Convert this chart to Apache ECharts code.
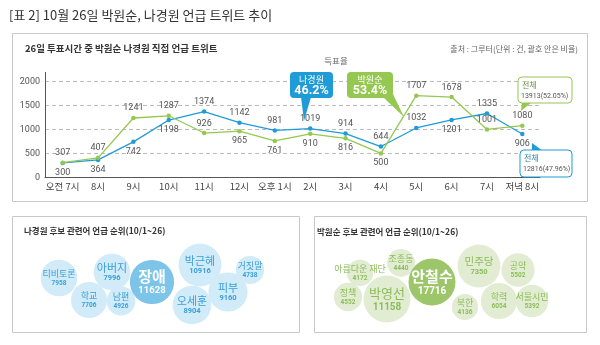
<!DOCTYPE html>
<html>
<head>
<meta charset="utf-8">
<script src="https://cdn.jsdelivr.net/npm/echarts@6/dist/echarts.min.js"></script>
<style>
  html, body { margin: 0; padding: 0; background: #fff; }
  #c { width: 600px; height: 345px; }
</style>
</head>
<body>
<div id="c"></div>
<script>
// Hourly tweet mentions on election day (Oct 26)
const hours = ['오전 7시', '8시', '9시', '10시', '11시', '12시', '오후 1시', '2시', '3시', '4시', '5시', '6시', '7시', '저녁 8시'];
const parkTweets = [307, 407, 1241, 1287, 926, 965, 761, 910, 816, 500, 1707, 1678, 1001, 1080];
const naTweets = [300, 364, 742, 1198, 1374, 1142, 981, 1019, 914, 644, 1032, 1201, 1335, 906];
const yTicks = [0, 500, 1000, 1500, 2000];

// Where each value label sits relative to its point
const parkLabelSide = ['top', 'top', 'top', 'top', 'top', 'bottom', 'bottom', 'bottom', 'bottom', 'bottom', 'top', 'top', 'top', 'top'];
const naLabelSide = ['bottom', 'bottom', 'bottom', 'bottom', 'top', 'top', 'top', 'top', 'top', 'top', 'top', 'bottom', 'top', 'bottom'];

// Related-word mention counts (Oct 1-26)
const naWords = ['티비토론', '학교', '아버지', '남편', '오세훈', '피부', '거짓말', '박근혜', '장애'];
const naWordCounts = [7958, 7706, 7996, 4926, 8904, 9160, 4738, 10916, 11628];
const parkWords = ['아름다운 재단', '정책', '조종동', '북한', '민주당', '학력', '공약', '서울시민', '박영선', '안철수'];
const parkWordCounts = [4172, 4552, 4440, 4136, 7350, 6054, 5502, 5392, 11158, 17716];

// Bubble cloud layout inside each panel (panel-local pixels)
const naWordSpots = [[47, 62], [77, 84], [100, 56], [109, 85], [180, 89], [216, 76], [238, 54], [188, 49], [140, 66]];
const parkWordSpots = [[46, 57], [34, 81], [87, 47], [151, 91], [165, 50], [185, 85], [204, 54], [218, 85], [73, 83], [118, 66]];

const BLUE = '#1f9bd7';
const GREEN = '#95c850';
const KR = '"Noto Sans CJK KR", "Noto Sans", sans-serif';
const NUM = 'Roboto, "Noto Sans", sans-serif';

const chart = echarts.init(document.getElementById('c'), null, { renderer: 'canvas' });

function lineData(values, sides) {
  return values.map((v, i) => ({ value: v, label: { position: sides[i] } }));
}

const naRadius = v => 0.205 * Math.sqrt(v);
const parkRadius = v => Math.min(23.5, 13 + (v - 4100) * 0.0026);

function bubbleData(words, counts, spots, big, bigStyle, midStyle) {
  return words.map((w, i) => {
    const item = { name: w, value: [spots[i][0], spots[i][1], counts[i]] };
    if (w === big) {
      item.itemStyle = { color: bigStyle.fill };
      item.label = { rich: bigStyle.rich };
    } else if (midStyle && midStyle[w]) {
      item.label = { rich: midStyle[w] };
    }
    return item;
  });
}

const midBlue = {
  n: { fontFamily: KR, fontSize: 11, color: '#3aa0da', lineHeight: 13 },
  v: { fontFamily: NUM, fontSize: 7.5, fontWeight: 'bold', color: '#3aa0da', lineHeight: 9 }
};

const naBubbles = bubbleData(naWords, naWordCounts, naWordSpots, '장애', {
  fill: '#7cc5e8',
  rich: {
    n: { fontFamily: KR, fontSize: 15, fontWeight: 'bold', color: '#fff', lineHeight: 18 },
    v: { fontFamily: NUM, fontSize: 9.5, fontWeight: 'bold', color: '#fff', lineHeight: 11 }
  }
}, { '박근혜': midBlue, '오세훈': midBlue, '아버지': midBlue, '피부': midBlue });

const parkBubbles = parkWords.map((w, i) => ({ name: w, value: [parkWordSpots[i][0], parkWordSpots[i][1], parkWordCounts[i]] }));
parkBubbles.forEach(b => {
  if (b.name === '안철수') {
    b.itemStyle = { color: '#9dc66b' };
    b.label = { rich: {
      n: { fontFamily: KR, fontSize: 15, fontWeight: 'bold', color: '#fff', lineHeight: 18 },
      v: { fontFamily: NUM, fontSize: 10, color: '#fff', lineHeight: 12 }
    } };
  } else if (b.name === '박영선') {
    b.label = { rich: {
      n: { fontFamily: KR, fontSize: 13, color: '#8cbd58', lineHeight: 16 },
      v: { fontFamily: NUM, fontSize: 10, color: '#8cbd58', lineHeight: 12 }
    } };
  } else if (b.name === '민주당') {
    b.label = { rich: {
      n: { fontFamily: KR, fontSize: 10.5, color: '#8cbd58', lineHeight: 13 },
      v: { fontFamily: NUM, fontSize: 7.5, color: '#8cbd58', lineHeight: 9 }
    } };
  }
});

const bubbleLabel = (color) => ({
  show: true,
  position: 'inside',
  formatter: p => '{n|' + p.name + '}\n{v|' + p.value[2] + '}',
  rich: {
    n: { fontFamily: KR, fontSize: 9, color: color, lineHeight: 11, align: 'center' },
    v: { fontFamily: NUM, fontSize: 6.5, fontWeight: 'bold', color: color, lineHeight: 8, align: 'center' }
  }
});

// Callout box with a pointer tail, drawn as chart graphics
function callout(x, y, w, h, fill, stroke, tail, lines) {
  const children = [
    { type: 'polygon', shape: { points: tail }, style: { fill: stroke || fill, stroke: null }, z: 10 },
    { type: 'rect', shape: { x: x, y: y, width: w, height: h, r: 4 }, style: { fill: fill, stroke: stroke, lineWidth: 1 }, z: 11 }
  ];
  lines.forEach(l => children.push({ type: 'text', x: l.x, y: l.y, z: 12,
    style: { text: l.text, font: l.font, fill: l.color, textAlign: l.align || 'center', textVerticalAlign: 'middle' } }));
  return { type: 'group', children: children };
}

const option = {
  animation: false,
  backgroundColor: '#fff',
  grid: [
    { left: 45, top: 81.7, width: 495, height: 95.6 },
    { left: 12, top: 216, width: 287, height: 116 },
    { left: 314, top: 216, width: 272, height: 116 }
  ],
  xAxis: [
    {
      gridIndex: 0, type: 'category', data: hours, boundaryGap: true,
      axisLine: { lineStyle: { color: '#555', width: 1 } },
      axisTick: { alignWithLabel: true, length: 3, lineStyle: { color: '#555' } },
      axisLabel: { fontFamily: KR, fontSize: 9.5, color: '#444', margin: 4, interval: 0 }
    },
    { gridIndex: 1, type: 'value', min: 0, max: 287, show: false },
    { gridIndex: 2, type: 'value', min: 0, max: 272, show: false }
  ],
  yAxis: [
    {
      gridIndex: 0, type: 'value', min: yTicks[0], max: yTicks[yTicks.length - 1], interval: 500,
      axisLine: { show: true, lineStyle: { color: '#555', width: 1 } },
      axisTick: { show: false },
      axisLabel: { fontFamily: NUM, fontSize: 9, color: '#555', margin: 5, formatter: v => String(v) },
      splitLine: { lineStyle: { color: '#aaa', type: [4, 3], width: 0.8 } }
    },
    { gridIndex: 1, type: 'value', min: 0, max: 116, inverse: true, show: false },
    { gridIndex: 2, type: 'value', min: 0, max: 116, inverse: true, show: false }
  ],
  series: [
    {
      name: '나경원', type: 'line', xAxisIndex: 0, yAxisIndex: 0,
      data: lineData(naTweets, naLabelSide),
      symbol: 'circle', symbolSize: 4.5,
      lineStyle: { color: BLUE, width: 1.3 }, itemStyle: { color: BLUE },
      label: { show: true, distance: 3, fontFamily: NUM, fontSize: 9, color: '#555' },
      z: 3
    },
    {
      name: '박원순', type: 'line', xAxisIndex: 0, yAxisIndex: 0,
      data: lineData(parkTweets, parkLabelSide),
      symbol: 'circle', symbolSize: 4.5,
      lineStyle: { color: GREEN, width: 1.3 }, itemStyle: { color: GREEN },
      label: { show: true, distance: 3, fontFamily: NUM, fontSize: 9, color: '#555' },
      z: 4
    },
    {
      name: '나경원 관련어', type: 'scatter', xAxisIndex: 1, yAxisIndex: 1,
      data: naBubbles,
      symbolSize: d => 2 * naRadius(d[2]),
      itemStyle: { color: '#d2ebf8', opacity: 1 },
      label: bubbleLabel('#3aa0da'),
      emphasis: { disabled: true }
    },
    {
      name: '박원순 관련어', type: 'scatter', xAxisIndex: 2, yAxisIndex: 2,
      data: parkBubbles,
      symbolSize: d => 2 * parkRadius(d[2]),
      itemStyle: { color: '#e2ecd3', opacity: 1 },
      label: bubbleLabel('#8cbd58'),
      emphasis: { disabled: true }
    }
  ],
  graphic: [
    // Page title
    { type: 'text', x: 9, y: 15, style: { text: '[표 2] 10월 26일 박원순, 나경원 언급 트위트 추이', font: '13px ' + KR, fill: '#333', textVerticalAlign: 'middle' } },
    // Panel frames
    { type: 'rect', shape: { x: 12.5, y: 33.5, width: 575, height: 168 }, style: { fill: null, stroke: '#c8c8c8', lineWidth: 1 }, z: -1 },
    { type: 'rect', shape: { x: 12.5, y: 216.5, width: 287, height: 116 }, style: { fill: null, stroke: '#c8c8c8', lineWidth: 1 }, z: -1 },
    { type: 'rect', shape: { x: 314.5, y: 216.5, width: 272, height: 116 }, style: { fill: null, stroke: '#c8c8c8', lineWidth: 1 }, z: -1 },
    // Panel titles
    { type: 'text', x: 25, y: 48, style: { text: '26일 투표시간 중 박원순 나경원 직접 언급 트위트', font: 'bold 9.5px ' + KR, fill: '#333', textVerticalAlign: 'middle' } },
    { type: 'text', x: 578, y: 49, style: { text: '출처 : 그루터(단위 : 건, 괄호 안은 비율)', font: '8px ' + KR, fill: '#666', textAlign: 'right', textVerticalAlign: 'middle' } },
    { type: 'text', x: 336, y: 61, style: { text: '득표율', font: '8.5px ' + KR, fill: '#666', textAlign: 'center', textVerticalAlign: 'middle' } },
    { type: 'text', x: 24, y: 231, style: { text: '나경원 후보 관련어 언급 순위(10/1~26)', font: 'bold 8.5px ' + KR, fill: '#333', textVerticalAlign: 'middle' } },
    { type: 'text', x: 317, y: 232, style: { text: '박원순 후보 관련어 언급 순위(10/1~26)', font: 'bold 8.5px ' + KR, fill: '#333', textVerticalAlign: 'middle' } },
    // y-axis line running a little above the top tick
    { type: 'line', shape: { x1: 45.5, y1: 72, x2: 45.5, y2: 82 }, style: { stroke: '#555', lineWidth: 1 } },
    // Vote-share callouts
    callout(290, 72, 43, 26, BLUE, null, [[301, 97], [311, 97], [304, 121]], [
      { x: 311.5, y: 79.5, text: '나경원', font: '9px ' + KR, color: '#fff' },
      { x: 311.5, y: 91, text: '46.2%', font: 'bold 12.5px ' + NUM, color: '#fff' }
    ]),
    callout(347, 72, 46, 26, GREEN, null, [[383, 97], [392, 92], [404, 117]], [
      { x: 370, y: 79.5, text: '박원순', font: '9px ' + KR, color: '#fff' },
      { x: 370, y: 91, text: '53.4%', font: 'bold 12.5px ' + NUM, color: '#fff' }
    ]),
    // Totals
    callout(518, 77, 54, 26, '#fff', GREEN, [[522, 102], [532, 102], [521, 111]], [
      { x: 522, y: 85, text: '전체', font: '8px ' + KR, color: '#6a8f3a', align: 'left' },
      { x: 521, y: 96, text: '13913(52.05%)', font: '7px ' + NUM, color: '#555', align: 'left' }
    ]),
    callout(520, 150, 52, 27, '#fff', BLUE, [[532, 151], [543, 151], [532, 143]], [
      { x: 524, y: 158, text: '전체', font: '8px ' + KR, color: '#2b7fb0', align: 'left' },
      { x: 523, y: 169, text: '12816(47.96%)', font: '7px ' + NUM, color: '#555', align: 'left' }
    ])
  ]
};

chart.setOption(option);
</script>
</body>
</html>
